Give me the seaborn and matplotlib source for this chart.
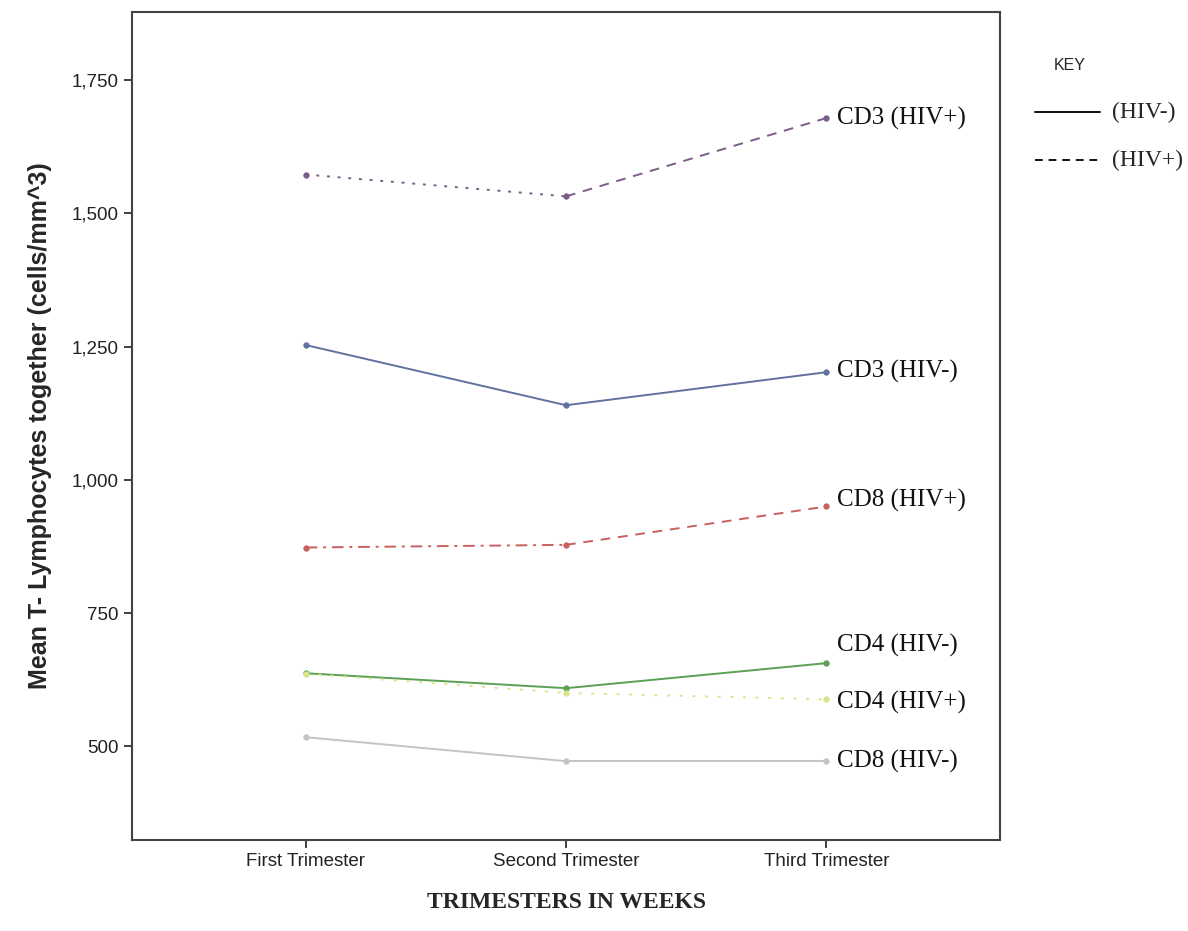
import numpy as np
import pandas as pd
import matplotlib
matplotlib.use("Agg")
import matplotlib.pyplot as plt
from matplotlib.ticker import FuncFormatter
import seaborn as sns

# data
trimesters = ["First Trimester", "Second Trimester", "Third Trimester"]
series_names = ["CD3 (HIV+)", "CD3 (HIV-)", "CD8 (HIV+)", "CD4 (HIV-)", "CD4 (HIV+)", "CD8 (HIV-)"]
cd3_pos = [1573, 1532, 1679]
cd3_neg = [1253, 1140, 1202]
cd8_pos = [873, 878, 950]
cd4_neg = [637, 609, 656]
cd4_pos = [636, 600, 588]
cd8_neg = [517, 472, 472]
y_ticks = [500, 750, 1000, 1250, 1500, 1750]

values = [cd3_pos, cd3_neg, cd8_pos, cd4_neg, cd4_pos, cd8_neg]
colors = ["#7b5e85", "#6272a0", "#c8605e", "#5aa055", "#d8e68a", "#c4c4c4"]
# line style for segment 1->2 and 2->3
seg_styles = [
    [(0, (1.5, 4)), (0, (5, 4))],
    ["-", "-"],
    [(0, (6, 3, 1.5, 3)), (0, (5, 4))],
    ["-", "-"],
    [(0, (1.5, 5)), (0, (1.5, 5))],
    ["-", "-"],
]

df = pd.DataFrame({
    "series": np.repeat(series_names, len(trimesters)),
    "pos": np.tile(np.arange(len(trimesters)), len(series_names)),
    "value": np.concatenate(values),
})

sns.set_style("white")
fig = plt.figure(figsize=(11.88, 9.31), dpi=100)
ax = fig.add_axes([0.1111, 0.0977, 0.7307, 0.8894])

for name, col, styles in zip(series_names, colors, seg_styles):
    sub = df[df["series"] == name]
    for k, ls in enumerate(styles):
        seg = sub[sub["pos"].isin([k, k + 1])]
        sns.lineplot(data=seg, x="pos", y="value", ax=ax, color=col,
                     linestyle=ls, linewidth=1.4, sort=False, estimator=None)
    sns.scatterplot(data=sub, x="pos", y="value", ax=ax, color=col, s=16,
                    edgecolor=col, linewidth=0.5, zorder=3)

# right-hand labels (offsets so they read like the original)
label_y = {"CD3 (HIV+)": 1679, "CD3 (HIV-)": 1204, "CD8 (HIV+)": 962,
           "CD4 (HIV-)": 690, "CD4 (HIV+)": 582, "CD8 (HIV-)": 472}
for name in series_names:
    ax.text(2.04, label_y[name], name, family="Liberation Serif", fontsize=18,
            ha="left", va="center", color="#111111")

ax.set_xlim(-0.667, 2.667)
ax.set_ylim(324, 1878)
ax.set_xticks(range(len(trimesters)))
ax.set_xticklabels(trimesters)
ax.set_yticks(y_ticks)
ax.yaxis.set_major_formatter(FuncFormatter(lambda v, p: f"{int(v):,}"))
ax.tick_params(axis="both", direction="out", length=6, width=1.3, color="#333333",
               labelsize=13.5, labelcolor="#222222", bottom=True, left=True)
for lab in ax.get_xticklabels() + ax.get_yticklabels():
    lab.set_family("Liberation Sans")
for sp in ax.spines.values():
    sp.set_color("#444444")
    sp.set_linewidth(1.5)

ax.set_xlabel("TRIMESTERS IN WEEKS", family="Liberation Serif", fontweight="bold",
              fontsize=17, labelpad=16)
ax.set_ylabel("Mean T- Lymphocytes together (cells/mm^3)", family="Liberation Sans",
              fontweight="bold", fontsize=18, labelpad=14)

# key
fig.text(1070 / 1188, 1 - 65 / 931, "KEY", family="Liberation Sans", fontsize=11.5,
         ha="center", va="center")
fig.add_artist(plt.Line2D([1035 / 1188, 1100 / 1188], [1 - 112 / 931] * 2,
                          color="#111111", linewidth=1.4))
fig.add_artist(plt.Line2D([1035 / 1188, 1100 / 1188], [1 - 160 / 931] * 2,
                          color="#111111", linewidth=1.4, linestyle=(0, (4, 3))))
fig.text(1112 / 1188, 1 - 112 / 931, "(HIV-)", family="Liberation Serif", fontsize=17,
         ha="left", va="center")
fig.text(1112 / 1188, 1 - 160 / 931, "(HIV+)", family="Liberation Serif", fontsize=17,
         ha="left", va="center")

fig.savefig("out.png", dpi=100)
